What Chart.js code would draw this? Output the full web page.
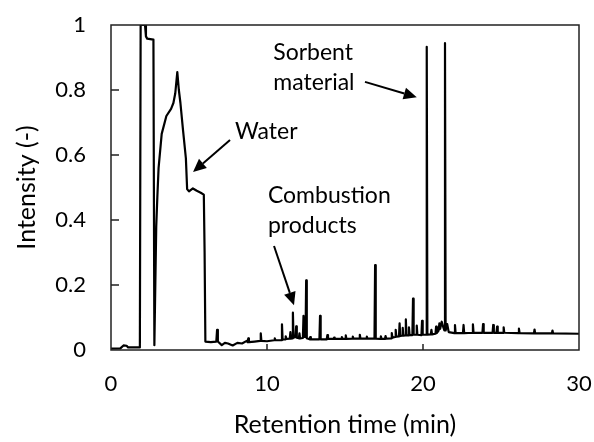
<!DOCTYPE html>
<html>
<head>
<meta charset="utf-8">
<script src="https://cdn.jsdelivr.net/npm/chart.js@4/dist/chart.umd.min.js"></script>
<style>
  html, body { margin: 0; padding: 0; background: #fff; }
  #wrap { width: 594px; height: 442px; }
</style>
</head>
<body>
<div id="wrap"><canvas id="chart" width="594" height="442"></canvas></div>
<script>
// Chromatogram trace (retention time in min, intensity)
const retentionTime = [
  0, 0.6, 0.8, 1.0, 1.1, 1.85, 1.9, 2.18, 2.24, 2.32, 2.72, 2.78, 2.84, 2.9, 2.97,
  3.05, 3.25, 3.55, 3.85, 4.0, 4.12, 4.25, 4.35, 4.45, 4.62, 4.8, 4.88, 5.0, 5.25,
  5.5, 5.75, 5.95, 6.0, 6.05, 6.4, 6.75, 6.8, 6.85, 7.1, 7.3, 7.5, 7.8, 8.1, 8.4,
  8.7, 8.76, 8.8, 8.84, 9.2, 9.56, 9.6, 9.64, 10.0, 10.46, 10.5, 10.54, 10.92, 10.96,
  11.0, 11.16, 11.2, 11.24, 11.46, 11.5, 11.54, 11.62, 11.66, 11.7, 11.83, 11.87,
  11.91, 12.04, 12.08, 12.12, 12.3, 12.34, 12.38, 12.47, 12.51, 12.55, 12.73, 12.77,
  12.81, 13.36, 13.4, 13.44, 13.83, 13.87, 13.91, 14.26, 14.3, 14.34, 14.76, 14.8,
  14.84, 15.01, 15.05, 15.09, 15.46, 15.5, 15.54, 15.91, 15.95, 15.99, 16.36, 16.4,
  16.44, 16.89, 16.93, 16.97, 17.26, 17.3, 17.34, 17.56, 17.6, 17.64, 17.96, 18.0,
  18.04, 18.21, 18.25, 18.29, 18.46, 18.5, 18.54, 18.66, 18.7, 18.74, 18.86, 18.9,
  18.94, 19.06, 19.1, 19.14, 19.32, 19.36, 19.4, 19.56, 19.6, 19.64, 19.9, 19.94,
  19.98, 20.2, 20.24, 20.28, 20.5, 20.54, 20.58, 20.8, 20.84, 20.88, 21.0, 21.05,
  21.1, 21.2, 21.3, 21.37, 21.41, 21.45, 21.55, 21.65, 22.01, 22.05, 22.09, 22.56,
  22.6, 22.64, 23.16, 23.2, 23.24, 23.81, 23.85, 23.89, 24.46, 24.5, 24.54, 24.71,
  24.75, 24.79, 25.13, 25.17, 25.21, 26.11, 26.15, 26.19, 27.11, 27.15, 27.19,
  28.26, 28.3, 28.34, 30
];
const intensity = [
  0.004, 0.005, 0.014, 0.013, 0.008, 0.008, 1.0, 1.0, 0.965, 0.958, 0.955, 0.015, 0.2, 0.38, 0.47,
  0.56, 0.665, 0.72, 0.742, 0.76, 0.79, 0.855, 0.8, 0.76, 0.675, 0.59, 0.495, 0.488, 0.497,
  0.49, 0.484, 0.478, 0.3, 0.026, 0.024, 0.026, 0.062, 0.026, 0.015, 0.022, 0.02, 0.014, 0.022, 0.02,
  0.028, 0.024, 0.036, 0.024, 0.026, 0.028, 0.051, 0.028, 0.027, 0.03, 0.036, 0.03, 0.03, 0.079,
  0.032, 0.033, 0.042, 0.034, 0.035, 0.055, 0.035, 0.036, 0.115, 0.038, 0.04, 0.073,
  0.038, 0.036, 0.051, 0.036, 0.037, 0.105, 0.04, 0.04, 0.214, 0.036, 0.033, 0.04,
  0.033, 0.033, 0.105, 0.033, 0.033, 0.046, 0.034, 0.034, 0.038, 0.034, 0.034, 0.04,
  0.034, 0.034, 0.045, 0.034, 0.035, 0.041, 0.035, 0.035, 0.047, 0.035, 0.035, 0.041,
  0.035, 0.035, 0.261, 0.035, 0.034, 0.042, 0.034, 0.034, 0.043, 0.035, 0.036, 0.052,
  0.038, 0.04, 0.062, 0.041, 0.042, 0.082, 0.043, 0.044, 0.068, 0.044, 0.045, 0.094,
  0.045, 0.045, 0.07, 0.046, 0.046, 0.158, 0.047, 0.047, 0.075, 0.047, 0.046, 0.09,
  0.047, 0.047, 0.933, 0.047, 0.048, 0.062, 0.048, 0.05, 0.072, 0.052, 0.06, 0.082,
  0.065, 0.087, 0.07, 0.06, 0.944, 0.06, 0.08, 0.055, 0.052, 0.077, 0.052, 0.052,
  0.077, 0.052, 0.053, 0.079, 0.053, 0.053, 0.08, 0.053, 0.053, 0.077, 0.053, 0.053,
  0.072, 0.053, 0.053, 0.07, 0.053, 0.052, 0.066, 0.052, 0.051, 0.063, 0.051,
  0.051, 0.06, 0.051, 0.05
];

const xTicks = [0, 10, 20, 30];
const yTicks = [0, 0.2, 0.4, 0.6, 0.8, 1];

// Callouts, anchored in data units
const labels = [
  { lines: ['Water'], x: 7.95, y: 0.649, tail: [7.63, 0.646], head: [5.26, 0.548] },
  { lines: ['Combustion', 'products'], x: 10.06, y: 0.452, tail: [10.45, 0.32], head: [11.73, 0.138] },
  { lines: ['Sorbent', 'material'], x: 10.4, y: 0.892, tail: [16.28, 0.825], head: [19.6, 0.778] }
];

const FONT = 'Lato, "Open Sans", sans-serif';

const drawArrow = (ctx, x1, y1, x2, y2) => {
  const ang = Math.atan2(y2 - y1, x2 - x1);
  const len = 13, half = 6;
  const bx = x2 - len * Math.cos(ang), by = y2 - len * Math.sin(ang);
  ctx.beginPath();
  ctx.moveTo(x1, y1);
  ctx.lineTo(bx, by);
  ctx.stroke();
  ctx.beginPath();
  ctx.moveTo(x2, y2);
  ctx.lineTo(bx + half * Math.sin(ang), by - half * Math.cos(ang));
  ctx.lineTo(bx - half * Math.sin(ang), by + half * Math.cos(ang));
  ctx.closePath();
  ctx.fill();
};

// no extra room for labels overhanging the plot edges
const fixPadding = s => {
  s.paddingTop = 0;
  s.paddingBottom = 0;
  s.paddingLeft = 0;
  s.paddingRight = 0;
};

const frame = {
  id: 'frame',
  afterDatasetsDraw(chart) {
    const { ctx, chartArea: a, scales: { x, y } } = chart;
    ctx.save();
    ctx.strokeStyle = '#222';
    ctx.lineWidth = 1.5;
    ctx.strokeRect(a.left, a.top, a.right - a.left, a.bottom - a.top);
    ctx.beginPath();
    yTicks.slice(1, -1).forEach(v => {
      const py = y.getPixelForValue(v);
      ctx.moveTo(a.left, py);
      ctx.lineTo(a.left + 8, py);
    });
    xTicks.slice(1, -1).forEach(v => {
      const px = x.getPixelForValue(v);
      ctx.moveTo(px, a.bottom);
      ctx.lineTo(px, a.bottom - 6);
    });
    ctx.stroke();

    ctx.fillStyle = '#000';
    ctx.strokeStyle = '#000';
    ctx.lineWidth = 2;
    ctx.font = '23px ' + FONT;
    ctx.textAlign = 'left';
    ctx.textBaseline = 'alphabetic';
    labels.forEach(l => {
      const tx = x.getPixelForValue(l.x);
      const ty = y.getPixelForValue(l.y);
      l.lines.forEach((s, i) => ctx.fillText(s, tx, ty + i * 30));
      drawArrow(ctx,
        x.getPixelForValue(l.tail[0]), y.getPixelForValue(l.tail[1]),
        x.getPixelForValue(l.head[0]), y.getPixelForValue(l.head[1]));
    });
    ctx.restore();
  }
};

const points = retentionTime.map((t, i) => ({ x: t, y: intensity[i] }));

new Chart(document.getElementById('chart'), {
  type: 'line',
  data: {
    datasets: [{
      data: points,
      borderColor: '#000',
      borderWidth: 2.2,
      borderJoinStyle: 'round',
      pointRadius: 0,
      tension: 0,
      fill: false
    }]
  },
  options: {
    responsive: false,
    animation: false,
    devicePixelRatio: 1,
    layout: { padding: { left: 0, top: 25, right: 15, bottom: 0 } },
    plugins: { legend: { display: false }, tooltip: { enabled: false } },
    scales: {
      x: {
        type: 'linear',
        min: 0, max: 30,
        afterFit: s => { s.height = 92; fixPadding(s); },
        afterBuildTicks: s => { s.ticks = xTicks.map(v => ({ value: v })); },
        grid: { display: false, drawTicks: false },
        border: { display: false },
        ticks: { color: '#000', padding: 21, font: { size: 22, family: FONT }, maxRotation: 0 },
        title: { display: true, text: 'Retention time (min)', color: '#000', padding: { top: 0, bottom: 2 }, font: { size: 25, family: FONT } }
      },
      y: {
        min: 0, max: 1,
        afterFit: s => { s.width = 111; fixPadding(s); },
        afterBuildTicks: s => { s.ticks = yTicks.map(v => ({ value: v })); },
        grid: { display: false, drawTicks: false },
        border: { display: false },
        ticks: { color: '#000', padding: 25, font: { size: 22, family: FONT }, callback: v => String(v) },
        title: { display: true, text: 'Intensity (-)', color: '#000', padding: { top: 12, bottom: 0 }, font: { size: 25, family: FONT } }
      }
    }
  },
  plugins: [frame]
});
</script>
</body>
</html>
